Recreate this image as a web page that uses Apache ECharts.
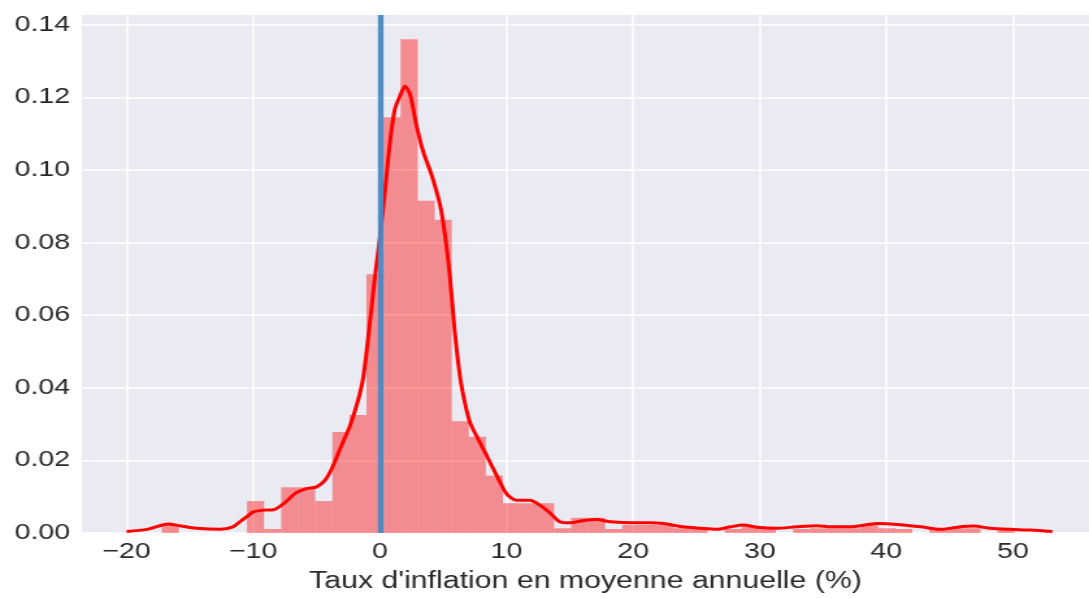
<!DOCTYPE html>
<html>
<head>
<meta charset="utf-8">
<script src="https://cdn.jsdelivr.net/npm/echarts@6/dist/echarts.min.js"></script>
<style>
html,body{margin:0;padding:0;background:#ffffff;overflow:hidden;}
#wrap{width:1089px;height:598px;overflow:hidden;}
/* the reference figure is stretched horizontally; reproduce by scaling the chart box */
#chart{width:838px;height:598px;transform:scaleX(1.2995);transform-origin:0 0;}
</style>
</head>
<body>
<div id="wrap"><div id="chart"></div></div>
<script>
// Histogram bin edges (51) and density heights (50)
const binEdges = [-17.22,-15.87,-14.53,-13.18,-11.83,-10.49,-9.14,-7.79,-6.44,-5.10,-3.75,-2.40,-1.06,0.29,1.64,2.99,4.33,5.68,7.03,8.37,9.72,11.07,12.41,13.76,15.11,16.46,17.80,19.15,20.50,21.84,23.19,24.54,25.88,27.23,28.58,29.93,31.27,32.62,33.97,35.31,36.66,38.01,39.35,40.70,42.05,43.40,44.74,46.09,47.44,48.78,50.13];
const binHeights = [0.0022,0,0,0,0,0.0088,0.0011,0.0126,0.0126,0.0088,0.0278,0.0325,0.0713,0.1145,0.136,0.0915,0.0863,0.0308,0.0265,0.0158,0.0082,0.0082,0.0082,0.0013,0.0042,0.0042,0.0011,0.0022,0.0022,0.0022,0.0013,0.0011,0,0.0011,0.0018,0.0011,0,0.0011,0.0013,0.0013,0.0013,0.0022,0.0013,0.0011,0,0.0011,0.0013,0.0013,0,0.0008];

// KDE curve
const kdeX = [-20,-18.4,-16.7,-15.8,-14.5,-12.6,-11.6,-11.05,-10.5,-10.0,-9.2,-8.4,-7.6,-6.6,-5.8,-5.0,-4.34,-3.8,-3.15,-2.36,-1.7,-1.3,-0.85,-0.39,0,0.4,0.8,1.19,1.59,1.98,2.38,2.9,3.43,4.09,4.75,5.14,5.54,5.9,6.33,6.72,7.12,7.77,8.44,9.23,10.0,10.8,11.86,12.65,13.44,14.2,15.0,16.0,17.1,18.2,20,21.3,22.4,23.9,25.3,26.6,27.7,28.7,29.8,31.3,32.9,34.5,35.6,37.1,39.25,41.3,42.7,44.3,45.6,46.9,48.2,49.8,51.4,53.1];
const kdeY = [0.0004,0.001,0.0025,0.002,0.0013,0.001,0.0017,0.0031,0.0045,0.0058,0.0063,0.0064,0.0081,0.0111,0.0122,0.0127,0.0145,0.0177,0.0231,0.0295,0.0368,0.0431,0.056,0.0704,0.0813,0.094,0.1077,0.1168,0.1204,0.1231,0.1209,0.1122,0.105,0.0986,0.0904,0.0822,0.0704,0.056,0.0431,0.0358,0.0304,0.0258,0.0213,0.0158,0.0108,0.009,0.009,0.0076,0.0055,0.0031,0.0028,0.0034,0.0037,0.0031,0.0028,0.0028,0.0026,0.0017,0.0013,0.001,0.0017,0.0022,0.0016,0.0013,0.0017,0.002,0.0017,0.0017,0.0026,0.0022,0.0017,0.001,0.0016,0.0019,0.0013,0.001,0.0008,0.0004];

// Axes
const xTicks = [-20,-10,0,10,20,30,40,50];
const yTicks = [0,0.02,0.04,0.06,0.08,0.10,0.12,0.14];
const xRange = [-23.53, 56.0];
const yRange = [0, 0.1427];
const refLineX = 0;
const xTitle = "Taux d'inflation en moyenne annuelle (%)";

const histData = binHeights.map((h, i) => [binEdges[i], binEdges[i + 1], h]);
const kdeData = kdeX.map((x, i) => [x, kdeY[i]]);

const chart = echarts.init(document.getElementById('chart'), null, {renderer: 'canvas'});
const fontFam = '"Liberation Sans", Arial, sans-serif';

chart.setOption({
  animation: false,
  backgroundColor: '#ffffff',
  grid: {
    left: 63, right: 0, top: 15, bottom: 60,
    show: true, backgroundColor: '#EAEAF2', borderWidth: 0,
    containLabel: false
  },
  xAxis: {
    type: 'value',
    min: xRange[0], max: xRange[1],
    axisLine: {show: false},
    axisTick: {show: false, customValues: xTicks},
    axisLabel: {
      customValues: xTicks,
      color: '#2a2a2a', fontSize: 22, fontFamily: fontFam, margin: 8,
      formatter: v => String(v).replace('-', '\u2212')
    },
    splitLine: {show: true, lineStyle: {color: '#ffffff', width: 1.5}},
    name: xTitle,
    nameLocation: 'middle',
    nameGap: 37,
    nameTextStyle: {color: '#2a2a2a', fontSize: 23.3, fontFamily: fontFam}
  },
  yAxis: {
    type: 'value',
    min: yRange[0], max: yRange[1],
    axisLine: {show: false},
    axisTick: {show: false, customValues: yTicks},
    axisLabel: {
      customValues: yTicks,
      color: '#2a2a2a', fontSize: 22, fontFamily: fontFam, margin: 9,
      formatter: v => v.toFixed(2)
    },
    splitLine: {show: true, lineStyle: {color: '#ffffff', width: 1.5}}
  },
  series: [
    {
      type: 'custom',
      z: 1,
      data: histData,
      encode: {x: [0, 1], y: 2},
      renderItem: (params, api) => {
        const p0 = api.coord([api.value(0), api.value(2)]);
        const p1 = api.coord([api.value(1), 0]);
        return {
          type: 'rect',
          shape: {x: p0[0], y: p0[1], width: p1[0] - p0[0], height: p1[1] - p0[1]},
          style: {fill: 'rgba(255,0,0,0.4)'}
        };
      }
    },
    {
      type: 'line',
      z: 2,
      data: [],
      markLine: {
        silent: true,
        symbol: ['none', 'none'],
        label: {show: false},
        lineStyle: {color: '#4a87c0', width: 4.3, type: 'solid', opacity: 0.95},
        data: [{xAxis: refLineX}]
      }
    },
    {
      type: 'line',
      z: 3,
      data: kdeData,
      smooth: 0.25,
      showSymbol: false,
      symbol: 'none',
      lineStyle: {color: '#ff0000', width: 3}
    }
  ]
});
</script>
</body>
</html>
